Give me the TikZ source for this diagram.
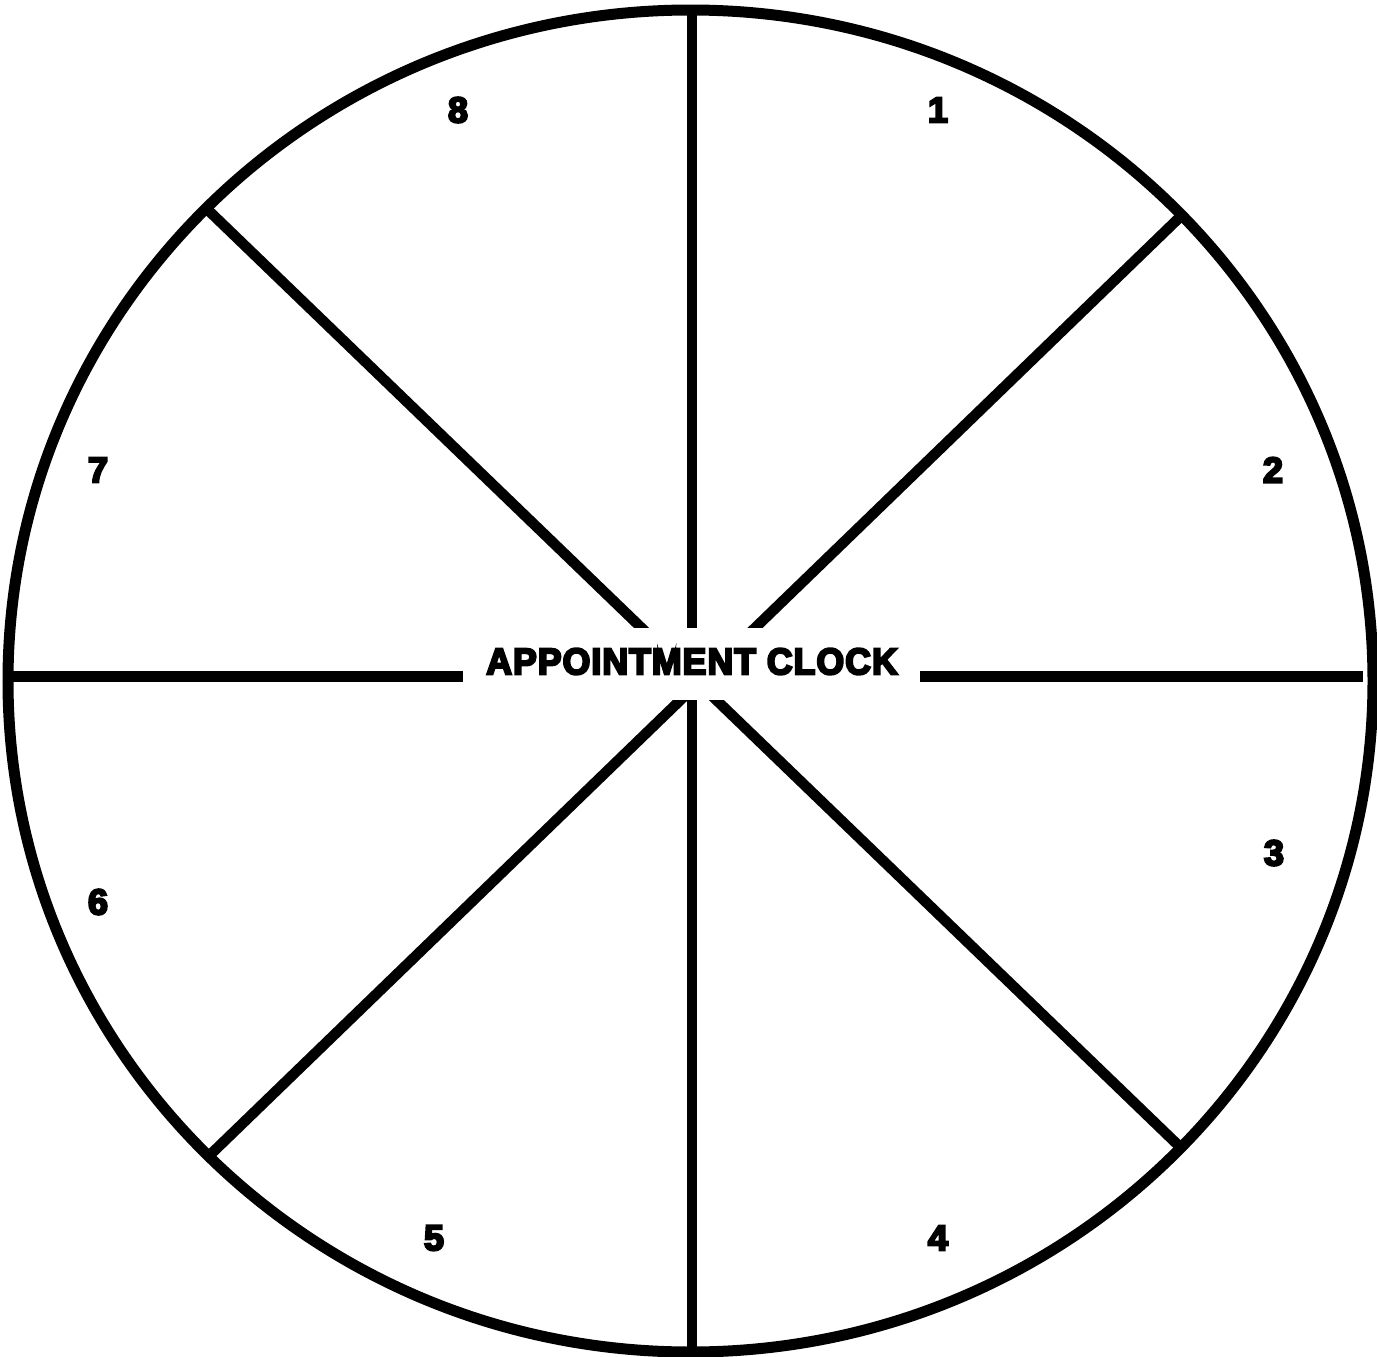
\documentclass[tikz,border=0pt]{standalone}
\usepackage{fontspec}
\newfontfamily\heavy{Liberation Sans}[BoldFeatures={FakeBold=6}]
\newfontfamily\heavytitle{Liberation Sans}[BoldFeatures={FakeBold=6,LetterSpace=3,FakeStretch=0.96}]
\begin{document}
\begin{tikzpicture}[x=1pt,y=-1pt,
  rim/.style={line width=11pt},
  spoke/.style={line width=10.5pt},
  num/.style={inner sep=0pt,font=\heavy\bfseries\fontsize{36}{36}\selectfont},
  ttl/.style={inner sep=0pt,font=\heavytitle\bfseries\fontsize{37}{37}\selectfont}]
\useasboundingbox (0,0) rectangle (1377,1357);
% end points of the spokes
\coordinate (top) at (692,10);
\coordinate (bot) at (692,1352);
\coordinate (lft) at (8,676.5);
\coordinate (lftin) at (463,676.5);
\coordinate (rgtin) at (920,676.5);
\coordinate (rgt) at (1363,676.5);
\coordinate (tl) at (209,211);
\coordinate (br) at (1178,1145);
\coordinate (tr) at (1180,217);
\coordinate (bl) at (212,1153);
% spokes
\draw[spoke] (top) -- (bot);
\draw[spoke] (tl) -- (br);
\draw[spoke] (tr) -- (bl);
\draw[spoke] (lft) -- (lftin);
\draw[spoke] (rgtin) -- (rgt);
% rim
\draw[rim] (690.5,681) ellipse [x radius=682.5, y radius=671];
% centre mask and title
\fill[white] (463,628) rectangle (920,700);
\node[ttl] (title) at (692,661.5) {APPOINTMENT CLOCK};
% numbers
\node[num] (n1) at (938,110) {1};
\node[num] (n2) at (1273,470) {2};
\node[num] (n3) at (1274,853) {3};
\node[num] (n4) at (938,1238) {4};
\node[num] (n5) at (434,1238) {5};
\node[num] (n6) at (98,902) {6};
\node[num] (n7) at (98,470) {7};
\node[num] (n8) at (458,110) {8};
\end{tikzpicture}
\end{document}
